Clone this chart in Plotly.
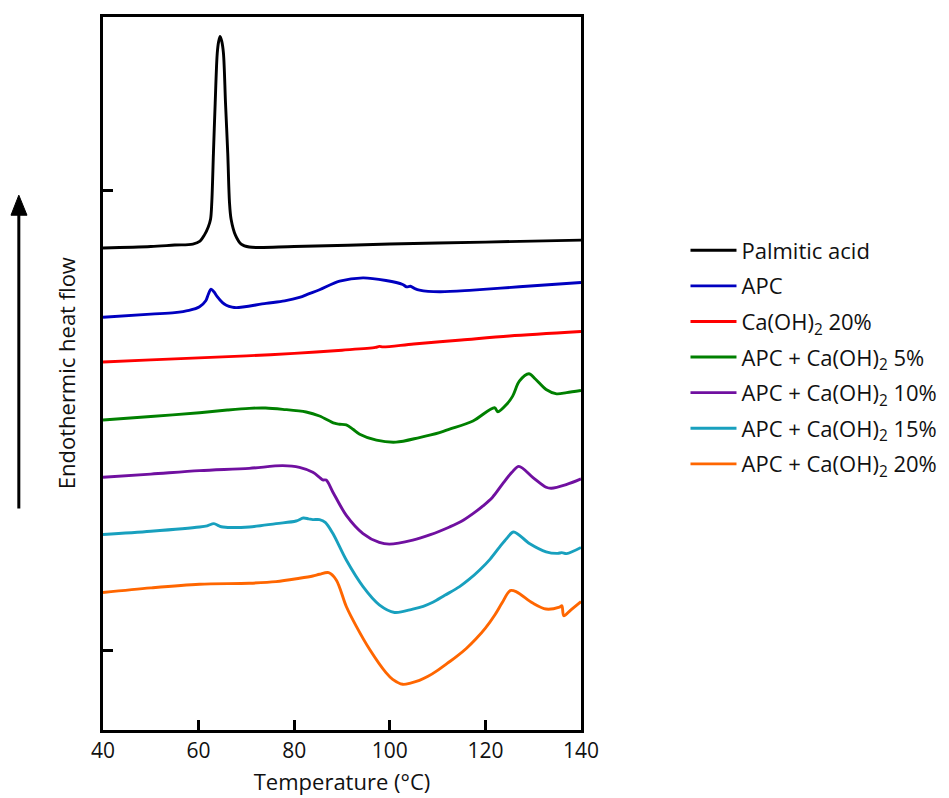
import plotly.graph_objects as go

# ---- data (temperature in °C, heat flow in arbitrary units) ----
pa_T = [40, 50, 55, 58.8, 60.3, 61.2, 62.0, 62.5, 62.76, 63.1, 63.47, 63.9, 64.2, 64.5, 64.85,
        65.2, 65.63, 66.1, 66.46, 66.8, 67.7, 68.9, 70.6, 80, 100, 120, 140]
pa_H = [405, 406.5, 408, 409, 412, 418, 426, 434, 451, 500, 551, 601, 613, 618, 613,
        601, 551, 500, 451, 434, 418, 409, 406, 406.5, 409, 411, 413]

apc_T = [40, 50, 55, 58, 60.2, 61.5, 62.0, 62.6, 63.2, 63.9, 65, 65.8, 67, 67.9, 74.1, 78, 81.1, 83, 85.3,
         89.5, 94.4, 99.2, 102.7, 103.5, 104.3, 105.2, 106.2, 110.4, 117.4, 127.1, 140]
apc_H = [335.3, 338.5, 340, 342.3, 346, 352, 358, 363.7, 361, 356, 350, 347.5, 345.5, 345, 349.3, 351.8, 355.3, 358.8, 363,
         371.7, 375, 372.3, 368.3, 366, 366.5, 364.3, 362.7, 361, 362.7, 366, 370.3]

ca_T = [40, 50, 60, 70, 80, 90, 97, 97.8, 98.6, 105, 115, 125, 140]
ca_H = [290.3, 292.5, 294.5, 296.5, 299, 302.2, 305, 306, 305.5, 308.5, 312.5, 316.5, 321]

c5_T = [40, 50, 60.2, 66, 70.6, 74, 77.6, 82.5, 85.3, 88.4, 89.5, 90.9, 92.3, 93.7, 97.2, 101.3, 106.2,
        110.4, 112.5, 117.4, 121.9, 122.6, 124.5, 125.7, 127.1, 129.1, 130.5, 132.7, 134.9, 137, 140]
c5_H = [232, 235.5, 239.3, 242, 243.7, 244, 242.7, 240, 236, 228.7, 227.7, 227, 222.7, 217.7, 211.7, 209.7, 214.3,
        219.3, 222.7, 231, 244.3, 240.3, 248, 256, 271, 278.5, 273, 262.7, 258.3, 259.5, 261.7]

c10_T = [40, 50, 60.2, 70.6, 77.6, 81.1, 83.9, 85.3, 86.0, 86.7, 88.1, 90.9, 94.4, 97.8, 99.9, 104.8,
         108.5, 112.5, 115, 117.4, 119.5, 121.5, 123.6, 125.5, 127, 129.9, 132.7, 133.8, 136.9, 140]
c10_H = [174.3, 177.5, 181, 183.3, 186, 184.3, 179.3, 174.3, 171.7, 171.5, 159.3, 136, 117.7, 108.7, 107, 111,
         116.5, 124.3, 130, 137.7, 145.5, 154.3, 167.7, 179, 185.3, 174.3, 164.3, 163.3, 167, 172.7]

c15_T = [40, 50, 60.2, 61.8, 63.2, 64.3, 65.1, 70.6, 76.2, 80.4, 81.9, 83, 83.9, 85.3, 86.5, 88.1, 90.9,
         94.4, 97.8, 101, 104.8, 107, 109, 111.5, 114.6, 116.7, 118.8, 121, 123, 124.5, 125.9, 129.2,
         132.7, 135.1, 136, 137, 140]
c15_H = [116.7, 120, 124.3, 125.5, 127.7, 125.3, 124.3, 124.3, 127.7, 130.3, 133.3, 132.5, 131.7, 131.7, 129, 117.7, 91,
         64.3, 46, 38.3, 41.7, 44.5, 48.5, 55.5, 64.3, 72, 81, 92, 104.3, 113, 119.3, 107.7,
         99.3, 97.7, 98.5, 97.5, 103.7]

c20_T = [40, 50, 60.2, 70.6, 76.2, 81.1, 83.9, 85.3, 87.2, 88.8, 90.9, 93, 95.8, 99.2, 100.6, 102.7, 104.5,
         106.2, 108, 110, 112, 114, 116, 118, 120, 122, 123.5, 125.2, 126.5, 129.9, 132.7, 135.5, 136,
         136.4, 137.9, 140]
c20_H = [58.3, 63, 66.7, 67.7, 69.3, 72.7, 75, 76.7, 78.3, 71, 44.3, 24.3, 1, -22.3, -29, -34, -32.5,
         -30, -26, -20, -13, -6, 2, 11.5, 22.5, 36, 48, 60.3, 59, 47.7, 41.7, 43.7, 45,
         35, 41, 49.3]

series_names = ["Palmitic acid", "APC", "Ca(OH)<sub>2</sub> 20%", "APC + Ca(OH)<sub>2</sub> 5%",
                "APC + Ca(OH)<sub>2</sub> 10%", "APC + Ca(OH)<sub>2</sub> 15%", "APC + Ca(OH)<sub>2</sub> 20%"]
series_T = [pa_T, apc_T, ca_T, c5_T, c10_T, c15_T, c20_T]
series_H = [pa_H, apc_H, ca_H, c5_H, c10_H, c15_H, c20_H]
colors = ["#000000", "#0000C0", "#FF0000", "#008000", "#7010A0", "#18A0BE", "#FF6600"]

x_ticks = [40, 60, 80, 100, 120, 140]
y_ticks = [0, 463]

FONT = "Open Sans, Lato, sans-serif"
TXT = "#111111"

fig = go.Figure()
for i, (name, T, H, c) in enumerate(zip(series_names, series_T, series_H, colors)):
    fig.add_trace(go.Scatter(x=T, y=H, mode="lines", name=name, legendgroup=f"g{i}",
                             line=dict(color=c, width=2.9, shape="spline", smoothing=0.9)))

fig.update_layout(
    width=941, height=790,
    margin=dict(l=95, r=368, t=6, b=66.5),
    paper_bgcolor="white", plot_bgcolor="white",
    font=dict(family=FONT, size=21, color=TXT),
    showlegend=True,
    legend=dict(x=1.2186, y=0.702, xanchor="left", yanchor="top",
                font=dict(family=FONT, size=22, color=TXT), tracegroupgap=4,
                bgcolor="rgba(0,0,0,0)", itemwidth=46),
    xaxis=dict(range=[40, 140], tickvals=x_ticks, ticks="inside", ticklen=10, tickwidth=2.5,
               tickcolor="black", showline=True, linecolor="black", linewidth=3, mirror=True,
               showgrid=False, zeroline=False, tickfont=dict(family=FONT, size=21, color=TXT),
               title=dict(text="Temperature (°C)", font=dict(family=FONT, size=22, color=TXT), standoff=12)),
    yaxis=dict(range=[-80, 637.5], tickvals=y_ticks, showticklabels=False, ticks="inside", ticklen=10,
               tickwidth=2.5, tickcolor="black", showline=True, linecolor="black", linewidth=3,
               mirror=True, showgrid=False, zeroline=False),
    annotations=[dict(text="Endothermic heat flow", textangle=-90, xref="paper", yref="paper",
                      x=-0.078, y=0.5, xanchor="center", yanchor="middle", showarrow=False,
                      font=dict(family=FONT, size=22, color=TXT))],
    shapes=[
        dict(type="line", xref="paper", yref="paper", x0=-0.1761, x1=-0.1761, y0=0.3108, y1=0.725,
             line=dict(color="black", width=3)),
        dict(type="path", xref="paper", yref="paper",
             path="M -0.1761 0.7501 L -0.1925 0.7220 L -0.1590 0.7220 Z",
             fillcolor="black", line=dict(color="black", width=1)),
    ],
)

fig.write_html("out.html")
